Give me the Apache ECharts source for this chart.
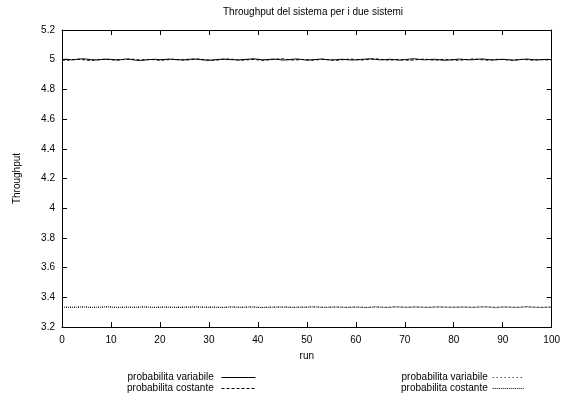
<!DOCTYPE html>
<html>
<head>
<meta charset="utf-8">
<script src="https://cdn.jsdelivr.net/npm/echarts@6/dist/echarts.min.js"></script>
<style>html,body{margin:0;padding:0;background:#fff}#c{width:563px;height:399px}</style>
</head>
<body>
<div id="c"></div>
<script>
var titleText = "Throughput del sistema per i due sistemi";
var seriesNames = ["probabilita variabile", "probabilita costante", "probabilita variabile", "probabilita costante"];
var yTicks = [3.2, 3.4, 3.6, 3.8, 4, 4.2, 4.4, 4.6, 4.8, 5, 5.2];
var xTicks = [0, 10, 20, 30, 40, 50, 60, 70, 80, 90, 100];

var upperVariabile = [
5.001,5.003,4.999,5.002,5.006,5.004,5.000,4.998,5.001,5.003,
5.002,4.999,5.000,5.004,5.002,4.997,4.995,4.998,5.001,5.003,
5.000,5.002,5.004,5.001,4.999,5.000,5.003,5.005,5.002,4.998,
4.996,4.999,5.002,5.004,5.001,5.000,4.998,5.001,5.003,5.006,
5.003,4.999,5.001,5.004,5.002,4.998,4.999,5.003,5.005,5.001,
4.997,4.999,5.002,5.004,5.001,4.998,5.000,5.003,5.001,4.998,
4.999,5.002,5.004,5.006,5.002,4.999,5.001,5.003,5.000,4.997,
5.000,5.004,5.006,5.002,4.999,5.001,5.003,5.000,4.996,4.998,
5.001,5.004,5.002,4.999,5.000,5.003,5.005,5.001,4.998,5.000,
5.003,5.001,4.997,4.999,5.002,5.004,5.001,4.999,5.000,5.002,
5.001];
var upperCostante = [
4.998,4.996,5.000,5.003,5.001,4.997,4.995,4.999,5.002,5.004,
5.000,4.997,4.999,5.003,5.005,5.001,4.998,5.000,5.002,4.999,
4.996,4.998,5.001,5.003,5.000,4.997,4.999,5.002,5.004,5.001,
4.998,4.996,4.999,5.003,5.005,5.002,4.998,4.997,5.000,5.002,
4.999,4.996,4.998,5.001,5.004,5.006,5.002,4.998,4.999,5.002,
5.000,4.997,4.999,5.003,5.001,4.998,4.996,4.999,5.002,5.004,
5.001,4.998,5.000,5.003,5.006,5.003,4.999,4.997,5.000,5.002,
4.999,4.996,4.999,5.002,5.004,5.000,4.997,4.999,5.003,5.001,
4.998,4.996,4.999,5.002,5.005,5.003,4.999,4.997,5.000,5.003,
5.001,4.998,4.996,4.999,5.002,5.000,4.997,4.999,5.001,4.999,
5.000];
var lowerVariabile = [
3.332,3.333,3.334,3.333,3.335,3.336,3.334,3.332,3.333,3.335,
3.334,3.332,3.333,3.335,3.334,3.333,3.336,3.334,3.332,3.333,
3.335,3.333,3.332,3.334,3.336,3.335,3.333,3.331,3.333,3.334,
3.336,3.334,3.332,3.333,3.335,3.334,3.333,3.335,3.337,3.334,
3.332,3.333,3.334,3.333,3.332,3.334,3.336,3.333,3.332,3.334,
3.333,3.335,3.334,3.332,3.333,3.336,3.334,3.333,3.332,3.334,
3.335,3.333,3.332,3.334,3.336,3.334,3.332,3.333,3.335,3.334,
3.333,3.335,3.336,3.333,3.332,3.334,3.335,3.333,3.332,3.334,
3.336,3.334,3.333,3.332,3.334,3.335,3.336,3.334,3.332,3.333,
3.335,3.334,3.332,3.333,3.335,3.336,3.334,3.333,3.332,3.334,
3.333];
var lowerCostante = [
3.334,3.333,3.332,3.334,3.335,3.333,3.332,3.333,3.334,3.336,
3.334,3.333,3.332,3.334,3.333,3.332,3.334,3.335,3.334,3.332,
3.333,3.335,3.334,3.332,3.331,3.333,3.334,3.336,3.335,3.333,
3.332,3.334,3.333,3.332,3.334,3.335,3.333,3.332,3.334,3.335,
3.333,3.331,3.333,3.334,3.336,3.334,3.333,3.332,3.334,3.333,
3.334,3.336,3.335,3.333,3.332,3.333,3.335,3.334,3.332,3.333,
3.334,3.333,3.331,3.333,3.335,3.334,3.332,3.333,3.336,3.334,
3.333,3.332,3.334,3.335,3.333,3.332,3.334,3.336,3.335,3.333,
3.332,3.333,3.335,3.334,3.332,3.334,3.336,3.335,3.333,3.332,
3.334,3.335,3.333,3.332,3.334,3.336,3.334,3.333,3.332,3.333,
3.334];

function pairs(arr){ return arr.map(function(v,i){ return [i, v]; }); }

var FONT = "Liberation Sans, Arial, sans-serif";
var chart = echarts.init(document.getElementById('c'), null, {renderer:'canvas'});
var gridL = 62, gridR = 9, gridT = 30, gridB = 72;

function baseAxis(extra){
  var o = {
    type: 'value',
    splitLine: {show: false},
    axisLine: {show: true, onZero: false, lineStyle: {color: '#000', width: 1}},
    axisTick: {show: true, inside: true, length: 5, lineStyle: {color: '#000', width: 1}},
    axisLabel: {show: true, color: '#000', fontFamily: FONT, fontSize: 10}
  };
  for (var k in extra) o[k] = extra[k];
  return o;
}

var legendText = {fontFamily: FONT, fontSize: 10, color: '#000', lineHeight: 11, padding: [0,0,0,0]};

var option = {
  backgroundColor: '#fff',
  animation: false,
  title: {
    text: titleText, left: gridL + (563 - gridL - gridR) / 2, top: 2, textAlign: 'center',
    textStyle: {fontFamily: FONT, fontSize: 10, fontWeight: 'normal', color: '#000'}
  },
  grid: {left: gridL, right: gridR, top: gridT, bottom: gridB, show: false},
  xAxis: [
    baseAxis({min: 0, max: 100, interval: 10, position: 'bottom', name: 'run', nameLocation: 'middle', nameGap: 24,
      nameTextStyle: {fontFamily: FONT, fontSize: 10, color: '#000'},
      axisLabel: {show: true, color: '#000', fontFamily: FONT, fontSize: 10, margin: 8}}),
    baseAxis({min: 0, max: 100, interval: 10, position: 'top', axisLabel: {show: false}})
  ],
  yAxis: [
    baseAxis({min: 3.2, max: 5.2, interval: 0.2, position: 'left', name: 'Throughput', nameLocation: 'middle', nameGap: 40, nameRotate: 90,
      nameTextStyle: {fontFamily: FONT, fontSize: 10, color: '#000'},
      axisLabel: {show: true, color: '#000', fontFamily: FONT, fontSize: 10, margin: 7}}),
    baseAxis({min: 3.2, max: 5.2, interval: 0.2, position: 'right', axisLabel: {show: false}})
  ],
  legend: [
    {
      data: [seriesNames[0] + ' ', seriesNames[1] + ' '].map(function(n){return {name: n};}),
      orient: 'vertical', left: 127, top: 372, align: 'right',
      itemWidth: 34, itemHeight: 8, itemGap: 0,
      itemStyle: {opacity: 0},
      lineStyle: {width: 1},
      textStyle: legendText,
      padding: 0
    },
    {
      data: [seriesNames[2], seriesNames[3]].map(function(n){return {name: n};}),
      orient: 'vertical', left: 401, top: 372, align: 'right',
      itemWidth: 32, itemHeight: 8, itemGap: 0,
      itemStyle: {opacity: 0},
      lineStyle: {width: 1},
      textStyle: legendText,
      padding: 0
    }
  ],
  series: [
    {name: seriesNames[0] + ' ', type: 'line', data: pairs(upperVariabile), symbol: 'none', z: 4,
      lineStyle: {color: '#000', width: 1, type: 'solid'}, itemStyle: {color: '#000'}},
    {name: seriesNames[1] + ' ', type: 'line', data: pairs(upperCostante), symbol: 'none', z: 3,
      lineStyle: {color: '#000', width: 1, type: [3, 2]}, itemStyle: {color: '#000'}},
    {name: seriesNames[2], type: 'line', data: pairs(lowerVariabile), symbol: 'none', z: 4,
      lineStyle: {color: '#000', width: 1, type: [1, 3]}, itemStyle: {color: '#000'}},
    {name: seriesNames[3], type: 'line', data: pairs(lowerCostante), symbol: 'none', z: 3,
      lineStyle: {color: '#000', width: 1, type: [1, 1]}, itemStyle: {color: '#000'}}
  ]
};
chart.setOption(option);
</script>
</body>
</html>
